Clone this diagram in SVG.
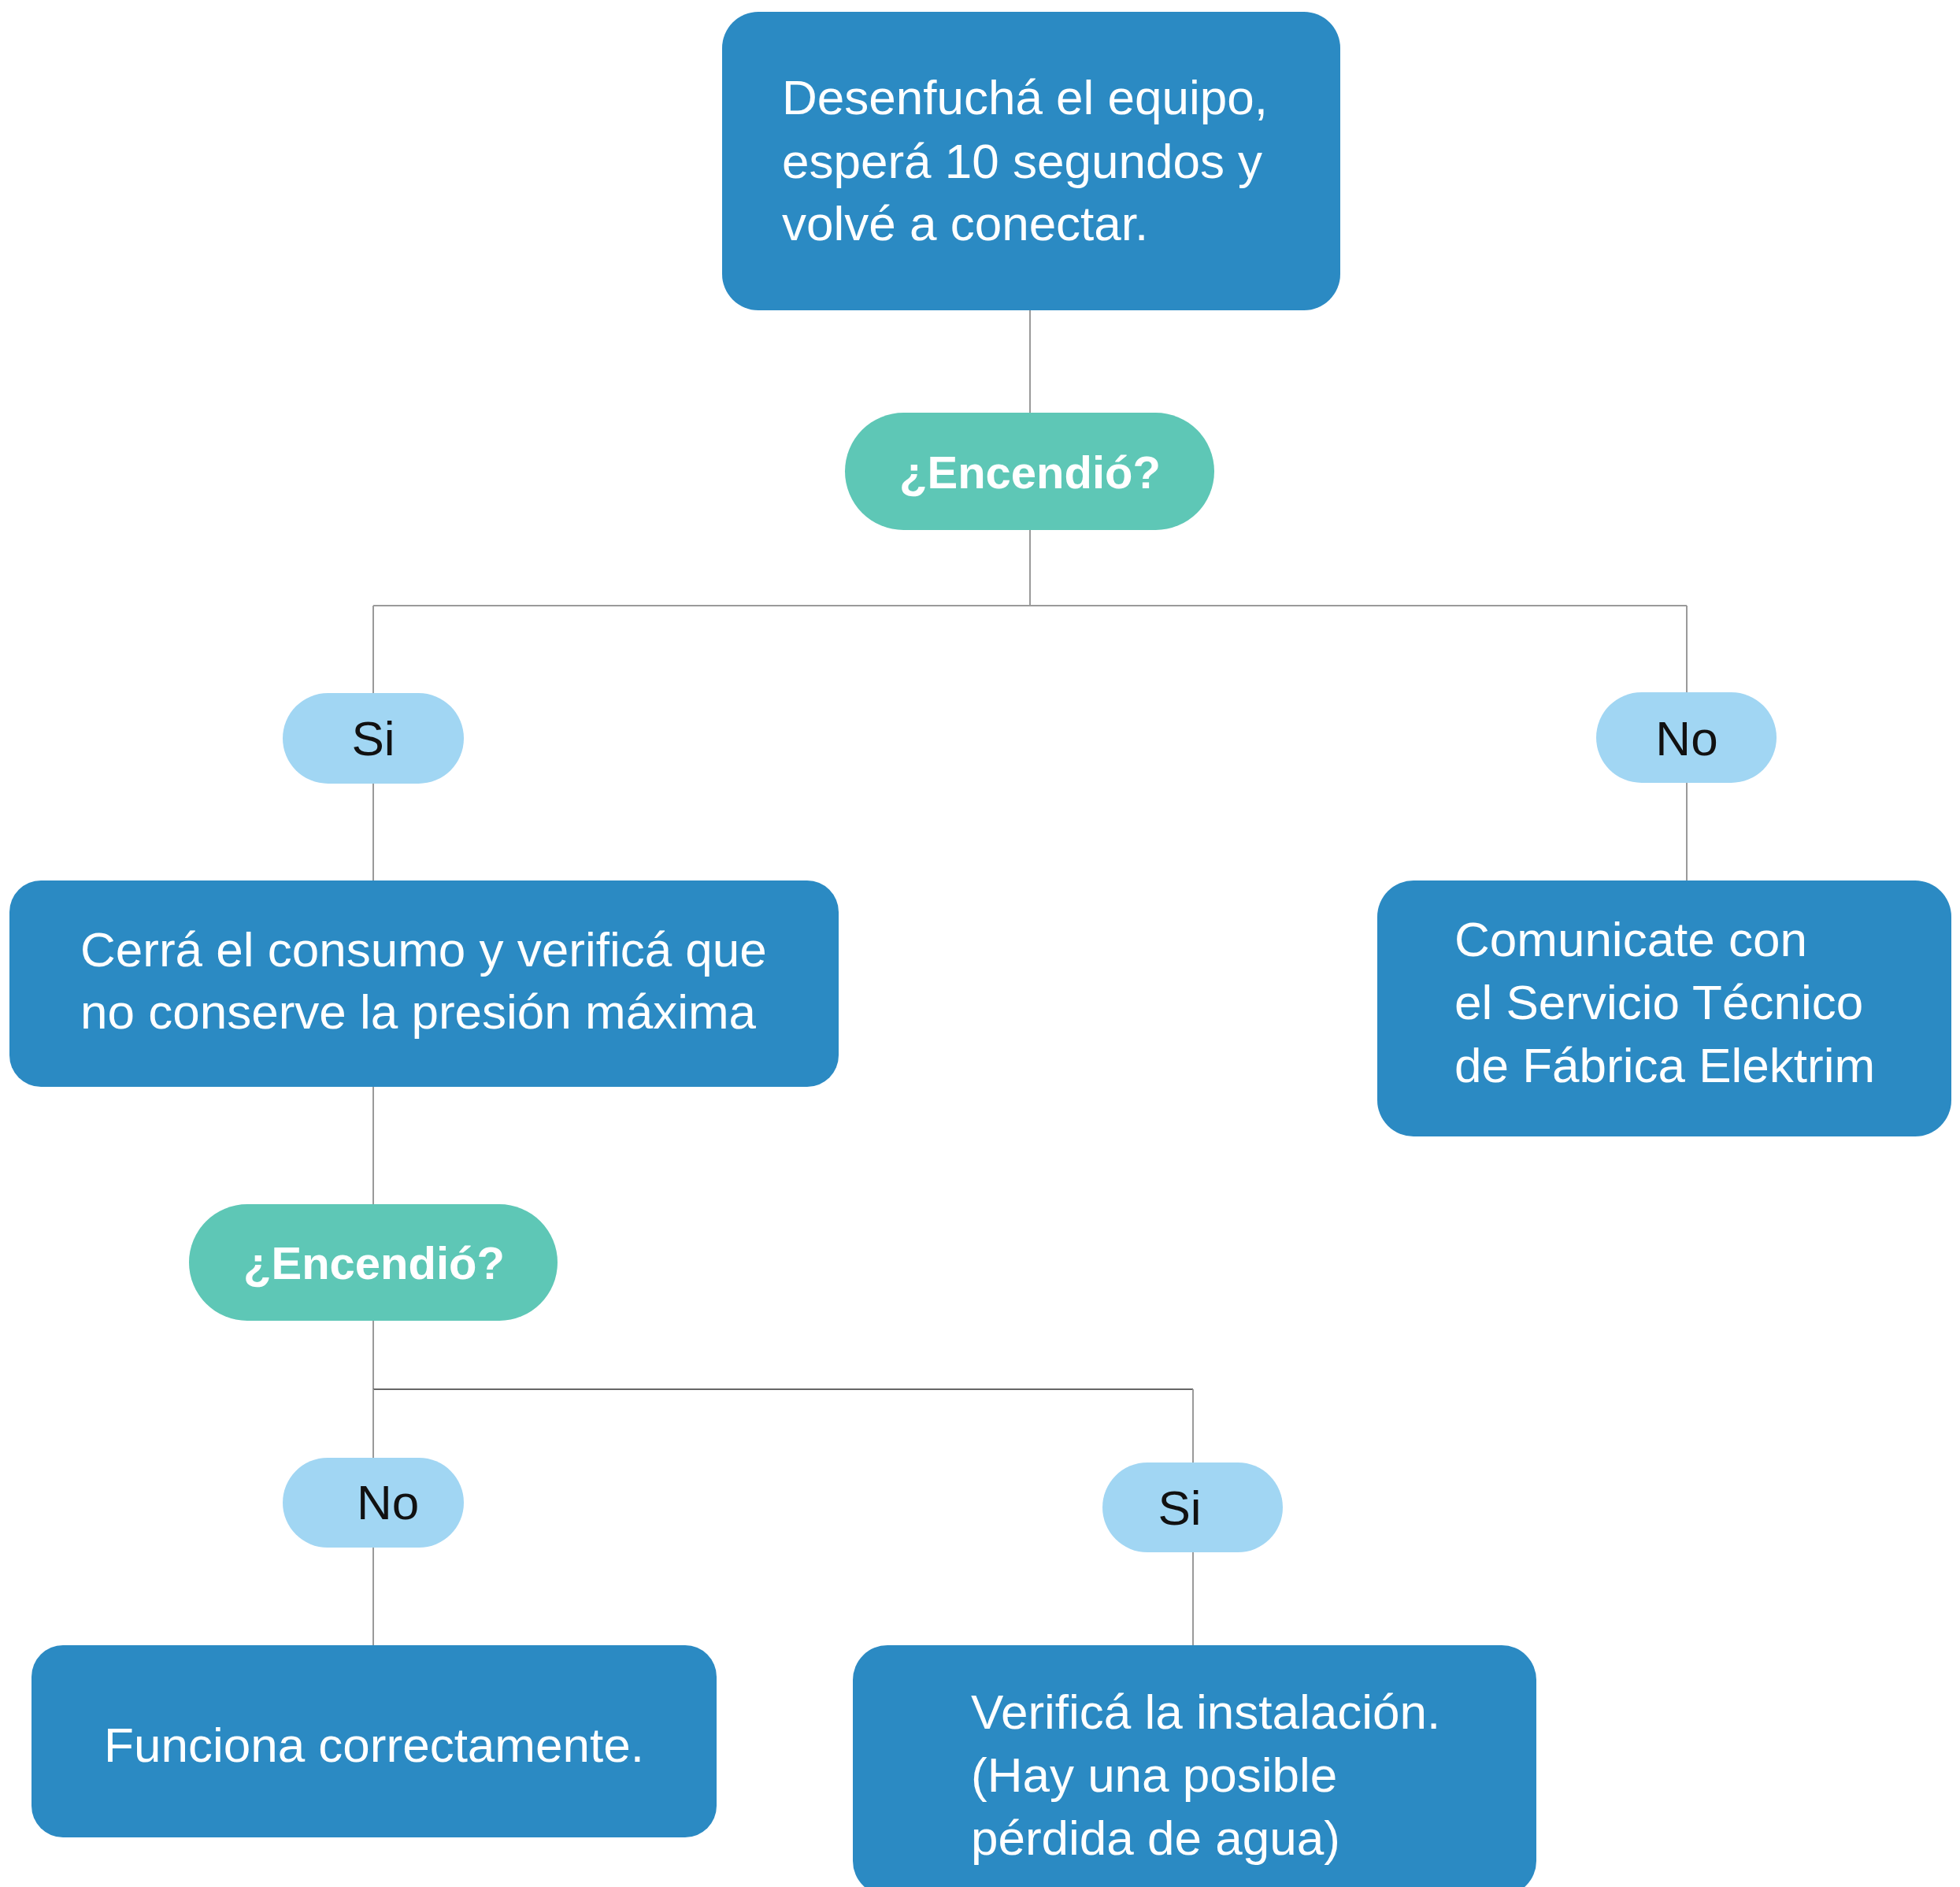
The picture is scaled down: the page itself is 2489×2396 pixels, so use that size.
<svg xmlns="http://www.w3.org/2000/svg" width="2489" height="2396" viewBox="0 0 2489 2396">
<style>
.box{fill:#2B8AC3}
.q{fill:#5EC7B6}
.lbl{fill:#A1D6F3}
.bt{font-family:"Liberation Sans",Arial,sans-serif;font-size:62px;fill:#ffffff}
.qt{font-family:"Liberation Sans",Arial,sans-serif;font-size:58px;font-weight:bold;fill:#ffffff;text-anchor:middle}
.lt{font-family:"Liberation Sans",Arial,sans-serif;font-size:62px;fill:#111111}
.c{stroke:#9a9a9a;stroke-width:2;fill:none}
</style>
<rect width="2489" height="2396" fill="#ffffff"/>
<g id="connectors">
<line class="c" x1="1308" y1="394" x2="1308" y2="524"/>
<line class="c" x1="1308" y1="673" x2="1308" y2="769"/>
<line class="c" x1="474" y1="769" x2="2142" y2="769"/>
<line class="c" x1="474" y1="769" x2="474" y2="880"/>
<line class="c" x1="2142" y1="769" x2="2142" y2="879"/>
<line class="c" x1="474" y1="995" x2="474" y2="1118"/>
<line class="c" x1="2142" y1="994" x2="2142" y2="1118"/>
<line class="c" x1="474" y1="1380" x2="474" y2="1529"/>
<line class="c" x1="474" y1="1677" x2="474" y2="1764"/>
<line class="c" x1="474" y1="1764" x2="1515" y2="1764" style="stroke:#666666"/>
<line class="c" x1="474" y1="1764" x2="474" y2="1851"/>
<line class="c" x1="1515" y1="1764" x2="1515" y2="1857"/>
<line class="c" x1="474" y1="1965" x2="474" y2="2089"/>
<line class="c" x1="1515" y1="1971" x2="1515" y2="2089"/>
</g>
<g id="n-start">
<rect class="box" x="917" y="15" width="785" height="379" rx="46"/>
<text class="bt" x="993" y="145">Desenfuchá el equipo,</text>
<text class="bt" x="993" y="226">esperá 10 segundos y</text>
<text class="bt" x="993" y="305">volvé a conectar.</text>
</g>
<g id="n-q1">
<rect class="q" x="1073" y="524" width="469" height="149" rx="74.5"/>
<text class="qt" x="1308" y="620">¿Encendió?</text>
</g>
<g id="n-si1">
<rect class="lbl" x="359" y="880" width="230" height="115" rx="57.5"/>
<text class="lt" x="474" y="959" text-anchor="middle">Si</text>
</g>
<g id="n-no1">
<rect class="lbl" x="2027" y="879" width="229" height="115" rx="57.5"/>
<text class="lt" x="2142" y="959" text-anchor="middle">No</text>
</g>
<g id="n-cerra">
<rect class="box" x="12" y="1118" width="1053" height="262" rx="40"/>
<text class="bt" x="102" y="1227">Cerrá el consumo y verificá que</text>
<text class="bt" x="102" y="1306">no conserve la presión máxima</text>
</g>
<g id="n-comunicate">
<rect class="box" x="1749" y="1118" width="729" height="325" rx="46"/>
<text class="bt" x="1847" y="1214">Comunicate con</text>
<text class="bt" x="1847" y="1294">el Servicio Técnico</text>
<text class="bt" x="1847" y="1374">de Fábrica Elektrim</text>
</g>
<g id="n-q2">
<rect class="q" x="240" y="1529" width="468" height="148" rx="74"/>
<text class="qt" x="475" y="1624">¿Encendió?</text>
</g>
<g id="n-no2">
<rect class="lbl" x="359" y="1851" width="230" height="114" rx="57"/>
<text class="lt" x="453" y="1929">No</text>
</g>
<g id="n-si2">
<rect class="lbl" x="1400" y="1857" width="229" height="114" rx="57"/>
<text class="lt" x="1498" y="1936" text-anchor="middle">Si</text>
</g>
<g id="n-funciona">
<rect class="box" x="40" y="2089" width="870" height="244" rx="40"/>
<text class="bt" x="475" y="2237" text-anchor="middle">Funciona correctamente.</text>
</g>
<g id="n-verifica">
<rect class="box" x="1083" y="2089" width="868" height="318" rx="44"/>
<text class="bt" x="1233" y="2195">Verificá la instalación.</text>
<text class="bt" x="1233" y="2275">(Hay una posible</text>
<text class="bt" x="1233" y="2355">pérdida de agua)</text>
</g>
</svg>
